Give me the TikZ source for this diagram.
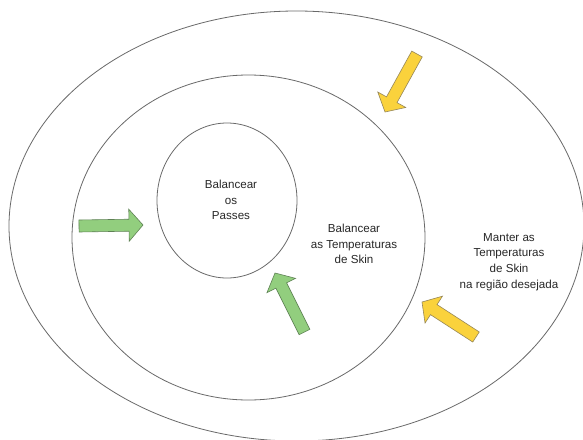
\documentclass[tikz,border=0pt]{standalone}
\usepackage{fontspec}
\setmainfont{Liberation Sans}
\usetikzlibrary{shapes.geometric,calc}
\definecolor{ringgray}{RGB}{105,105,105}
\definecolor{gfill}{RGB}{146,206,126}
\definecolor{gline}{RGB}{95,130,85}
\definecolor{yfill}{RGB}{250,210,60}
\definecolor{yline}{RGB}{150,135,90}
\definecolor{txt}{RGB}{40,40,40}
\newcommand\blockarrow[3]{%
  \coordinate (hb) at ($(#2)!14pt!(#1)$);
  \draw[#3] ($(#1)!6pt!90:(#2)$) -- ($(hb)!6pt!90:(#2)$) -- ($(hb)!16pt!90:(#2)$)
    -- (#2) -- ($(hb)!16pt!-90:(#2)$) -- ($(hb)!6pt!-90:(#2)$)
    -- ($(#1)!6pt!-90:(#2)$) -- cycle;}
\begin{document}
\begin{tikzpicture}[x=1pt,y=-1pt,
  ring/.style={draw=ringgray, line width=0.8pt, ellipse, inner sep=0pt},
  lbl/.style={align=center, font=\fontsize{11.6}{15.8}\selectfont, text=txt, inner sep=0pt},
  greenarr/.style={fill=gfill, draw=gline, line width=0.6pt, line join=miter},
  yellowarr/.style={fill=yfill, draw=yline, line width=0.6pt, line join=miter}]
\useasboundingbox (0,0) rectangle (583,439);
\fill[white] (0,0) rectangle (583,439);
\clip (0,0) rectangle (583,439);
% rings
\node[ring, minimum width=575pt, minimum height=430pt] (outer) at (296.5,226) {};
\node[ring, minimum width=353pt, minimum height=325pt] (middle) at (248.5,237.5) {};
\node[ring, minimum width=140pt, minimum height=155pt] (inner) at (227,200.5) {};
% labels
\node[lbl] (tinner) at (231,200) {Balancear\\os\\Passes};
\node[lbl] (tmiddle) at (354,244) {Balancear\\as Temperaturas\\de Skin};
\node[lbl] (touter) at (509,262) {Manter as\\Temperaturas\\de Skin\\na região desejada};
% arrows
\coordinate (g1tail) at (79,226);
\coordinate (g1tip) at (143,225);
\coordinate (g2tail) at (304.5,332);
\coordinate (g2tip) at (275,273);
\coordinate (y1tail) at (417,54);
\coordinate (y1tip) at (385,112);
\coordinate (y2tail) at (476,337);
\coordinate (y2tip) at (422,302);
\blockarrow{g1tail}{g1tip}{greenarr}
\blockarrow{g2tail}{g2tip}{greenarr}
\blockarrow{y1tail}{y1tip}{yellowarr}
\blockarrow{y2tail}{y2tip}{yellowarr}
\end{tikzpicture}
\end{document}
